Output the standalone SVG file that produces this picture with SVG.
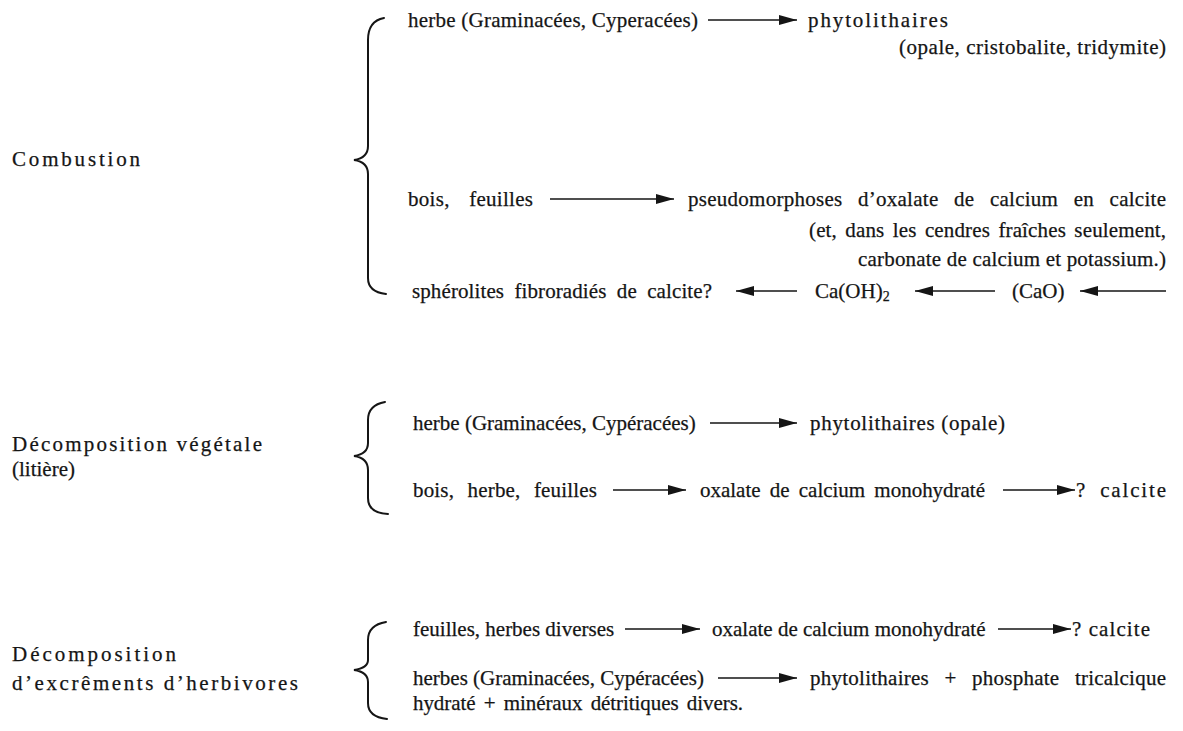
<svg xmlns="http://www.w3.org/2000/svg" width="1183" height="731" viewBox="0 0 1183 731">
<defs>
<style>
text{font-family:"Liberation Serif","Times New Roman",serif;font-size:21px;fill:#151515;stroke:#151515;stroke-width:0.25;}
.br{fill:none;stroke:#151515;stroke-width:2;stroke-linecap:round;}
.ar{fill:none;stroke:#151515;stroke-width:1.4;}
</style>
<marker id="ah" viewBox="0 0 18 10" refX="18" refY="5" markerWidth="18" markerHeight="10" markerUnits="userSpaceOnUse" orient="auto">
<path d="M0,0 L18,5 L0,10 z" fill="#151515"/>
</marker>
</defs>
<rect width="1183" height="731" fill="#fff"/>

<g id="labels">
<g id="lbl-combustion"><text x="12" y="166" textLength="128" lengthAdjust="spacing">Combustion</text></g>
<g id="lbl-vegetale"><text x="12" y="451" textLength="250" lengthAdjust="spacing">Décomposition végétale</text>
<text x="12" y="476">(litière)</text></g>
<g id="lbl-excrements"><text x="12" y="661" textLength="164" lengthAdjust="spacing">Décomposition</text>
<text x="12" y="690" textLength="286" lengthAdjust="spacing">d’excrêments d’herbivores</text></g>
</g>

<g id="braces">
<path class="br" d="M384 18 Q368 21 368 40 L368 146 Q368 158 354 160 Q368 162 368 174 L368 278 Q368 292 386 294"/>
<path class="br" d="M385 402 Q368 405 368 420 L368 443 Q368 454 354 456 Q368 458 368 470 L368 498 Q368 513 388 514"/>
<path class="br" d="M386 622 Q368 625 368 640 L368 660 Q368 668 354 670 Q368 672 368 682 L368 703 Q368 717 387 719"/>
</g>

<g id="n-combustion">
<text x="408" y="27" textLength="290" lengthAdjust="spacing">herbe (Graminacées, Cyperacées)</text>
<text x="808" y="27" textLength="140" lengthAdjust="spacing">phytolithaires</text>
<text x="899" y="54" textLength="267" lengthAdjust="spacing">(opale, cristobalite, tridymite)</text>
<text x="408" y="206" textLength="125" lengthAdjust="spacing" word-spacing="14">bois, feuilles</text>
<text x="688" y="206" textLength="478" lengthAdjust="spacing" word-spacing="10">pseudomorphoses d’oxalate de calcium en calcite</text>
<text x="809" y="237" textLength="357" lengthAdjust="spacing" word-spacing="3">(et, dans les cendres fraîches seulement,</text>
<text x="858" y="266" textLength="308" lengthAdjust="spacing">carbonate de calcium et potassium.)</text>
<text x="412" y="298" textLength="300" lengthAdjust="spacing" word-spacing="5">sphérolites fibroradiés de calcite?</text>
<text x="815" y="298">Ca(OH)<tspan font-size="14" dy="3">2</tspan></text>
<text x="1012" y="298">(CaO)</text>
</g>

<g id="n-vegetale">
<text x="413" y="430">herbe (Graminacées, Cypéracées)</text>
<text x="810" y="430" textLength="195" lengthAdjust="spacing">phytolithaires (opale)</text>
<text x="413" y="497" textLength="184" lengthAdjust="spacing" word-spacing="8">bois, herbe, feuilles</text>
<text x="700" y="497" textLength="285" lengthAdjust="spacing" word-spacing="4">oxalate de calcium monohydraté</text>
<text x="1076" y="497" textLength="90" lengthAdjust="spacing" word-spacing="6">? calcite</text>
</g>

<g id="n-excrements">
<text x="413" y="636">feuilles, herbes diverses</text>
<text x="712" y="636">oxalate de calcium monohydraté</text>
<text x="1072" y="636" textLength="78" lengthAdjust="spacing">? calcite</text>
<text x="413" y="685">herbes (Graminacées, Cypéracées)</text>
<text x="810" y="685" textLength="356" lengthAdjust="spacing" word-spacing="10">phytolithaires + phosphate tricalcique</text>
<text x="413" y="710" textLength="330" lengthAdjust="spacing" word-spacing="3">hydraté + minéraux détritiques divers.</text>
</g>

<g id="connectors">
<line class="ar" x1="708" y1="20" x2="797" y2="20" marker-end="url(#ah)"/>
<line class="ar" x1="550" y1="199" x2="674" y2="199" marker-end="url(#ah)"/>
<line class="ar" x1="797" y1="291" x2="736" y2="291" marker-end="url(#ah)"/>
<line class="ar" x1="995" y1="291" x2="915" y2="291" marker-end="url(#ah)"/>
<line class="ar" x1="1166" y1="291" x2="1080" y2="291" marker-end="url(#ah)"/>
<line class="ar" x1="710" y1="423" x2="797" y2="423" marker-end="url(#ah)"/>
<line class="ar" x1="613" y1="490" x2="686" y2="490" marker-end="url(#ah)"/>
<line class="ar" x1="1003" y1="490" x2="1075" y2="490" marker-end="url(#ah)"/>
<line class="ar" x1="625" y1="629" x2="700" y2="629" marker-end="url(#ah)"/>
<line class="ar" x1="998" y1="629" x2="1071" y2="629" marker-end="url(#ah)"/>
<line class="ar" x1="718" y1="678" x2="797" y2="678" marker-end="url(#ah)"/>
</g>
</svg>
